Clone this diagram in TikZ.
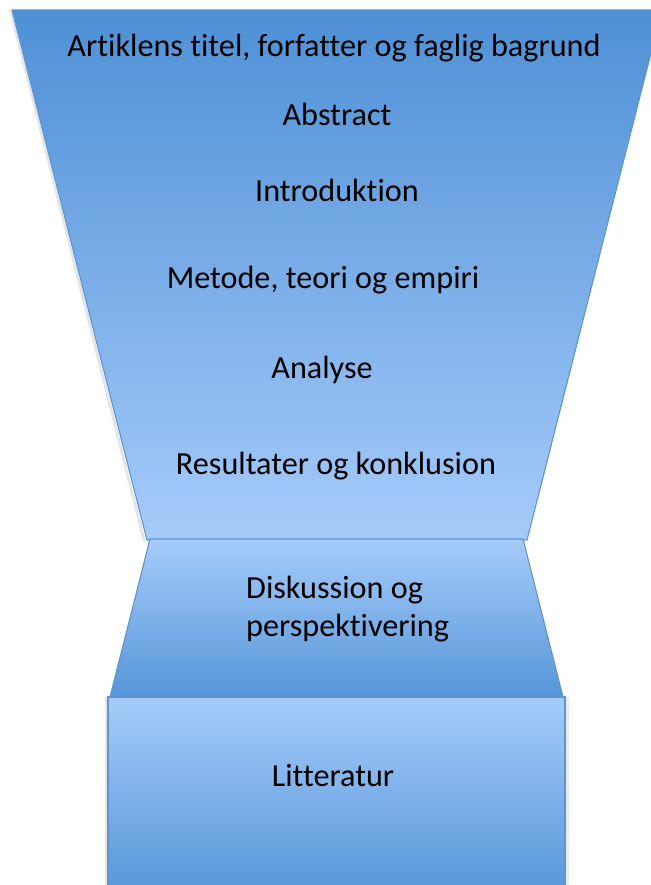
\documentclass[tikz,border=0pt]{standalone}
\usepackage{fontspec}
\setmainfont{Carlito}[Ligatures=NoCommon, RawFeature={-liga;-clig}]
\definecolor{edge}{HTML}{5E94D0}
\definecolor{dark}{HTML}{4E90D5}
\definecolor{light}{HTML}{A6CBFA}
\definecolor{midlow}{HTML}{5596D8}
\tikzset{
  blockshape/.style={draw=edge, line width=1.1pt, line join=miter},
  lbl/.style={anchor=base, inner sep=0pt, font=\fontsize{32.2}{38}\selectfont, text=black}
}
\begin{document}
\begin{tikzpicture}[x=1pt,y=1pt]
\useasboundingbox (0,0) rectangle (650,885);
% shadows
\fill[black!10] (9,875) -- (143,343) -- (146,343) -- (12,875) -- cycle;
\fill[black!10] (105,-5) -- (105,188) -- (108,188) -- (108,-5) -- cycle;
\fill[black!8] (565,-5) -- (565,188) -- (569,188) -- (569,-5) -- cycle;
% top funnel
\shade[blockshape, top color=dark, bottom color=light] (12,875) -- (662,875) -- (527,345) -- (147,345) -- cycle;
% middle trapezoid
\shade[blockshape, top color=light, bottom color=midlow] (150,346) -- (523,346) -- (563,188) -- (110,188) -- cycle;
% bottom rectangle
\shade[blockshape, top color=light, bottom color=midlow] (108,188) -- (565,188) -- (565,-10) -- (108,-10) -- cycle;
% texts
\node[lbl] (t1) at (334,828) {Artiklens titel, forfatter og faglig bagrund};
\node[lbl] (t2) at (337,759) {Abstract};
\node[lbl] (t3) at (337,683) {Introduktion};
\node[lbl] (t4) at (323,596) {Metode, teori og empiri};
\node[lbl] (t5) at (322,506) {Analyse};
\node[lbl] (t6) at (336,410) {Resultater og konklusion};
\node[lbl, anchor=base west] (t7) at (246,286) {Diskussion og};
\node[lbl, anchor=base west] (t8) at (246,248) {perspektivering};
\node[lbl] (t9) at (333,98) {Litteratur};
\end{tikzpicture}
\end{document}
